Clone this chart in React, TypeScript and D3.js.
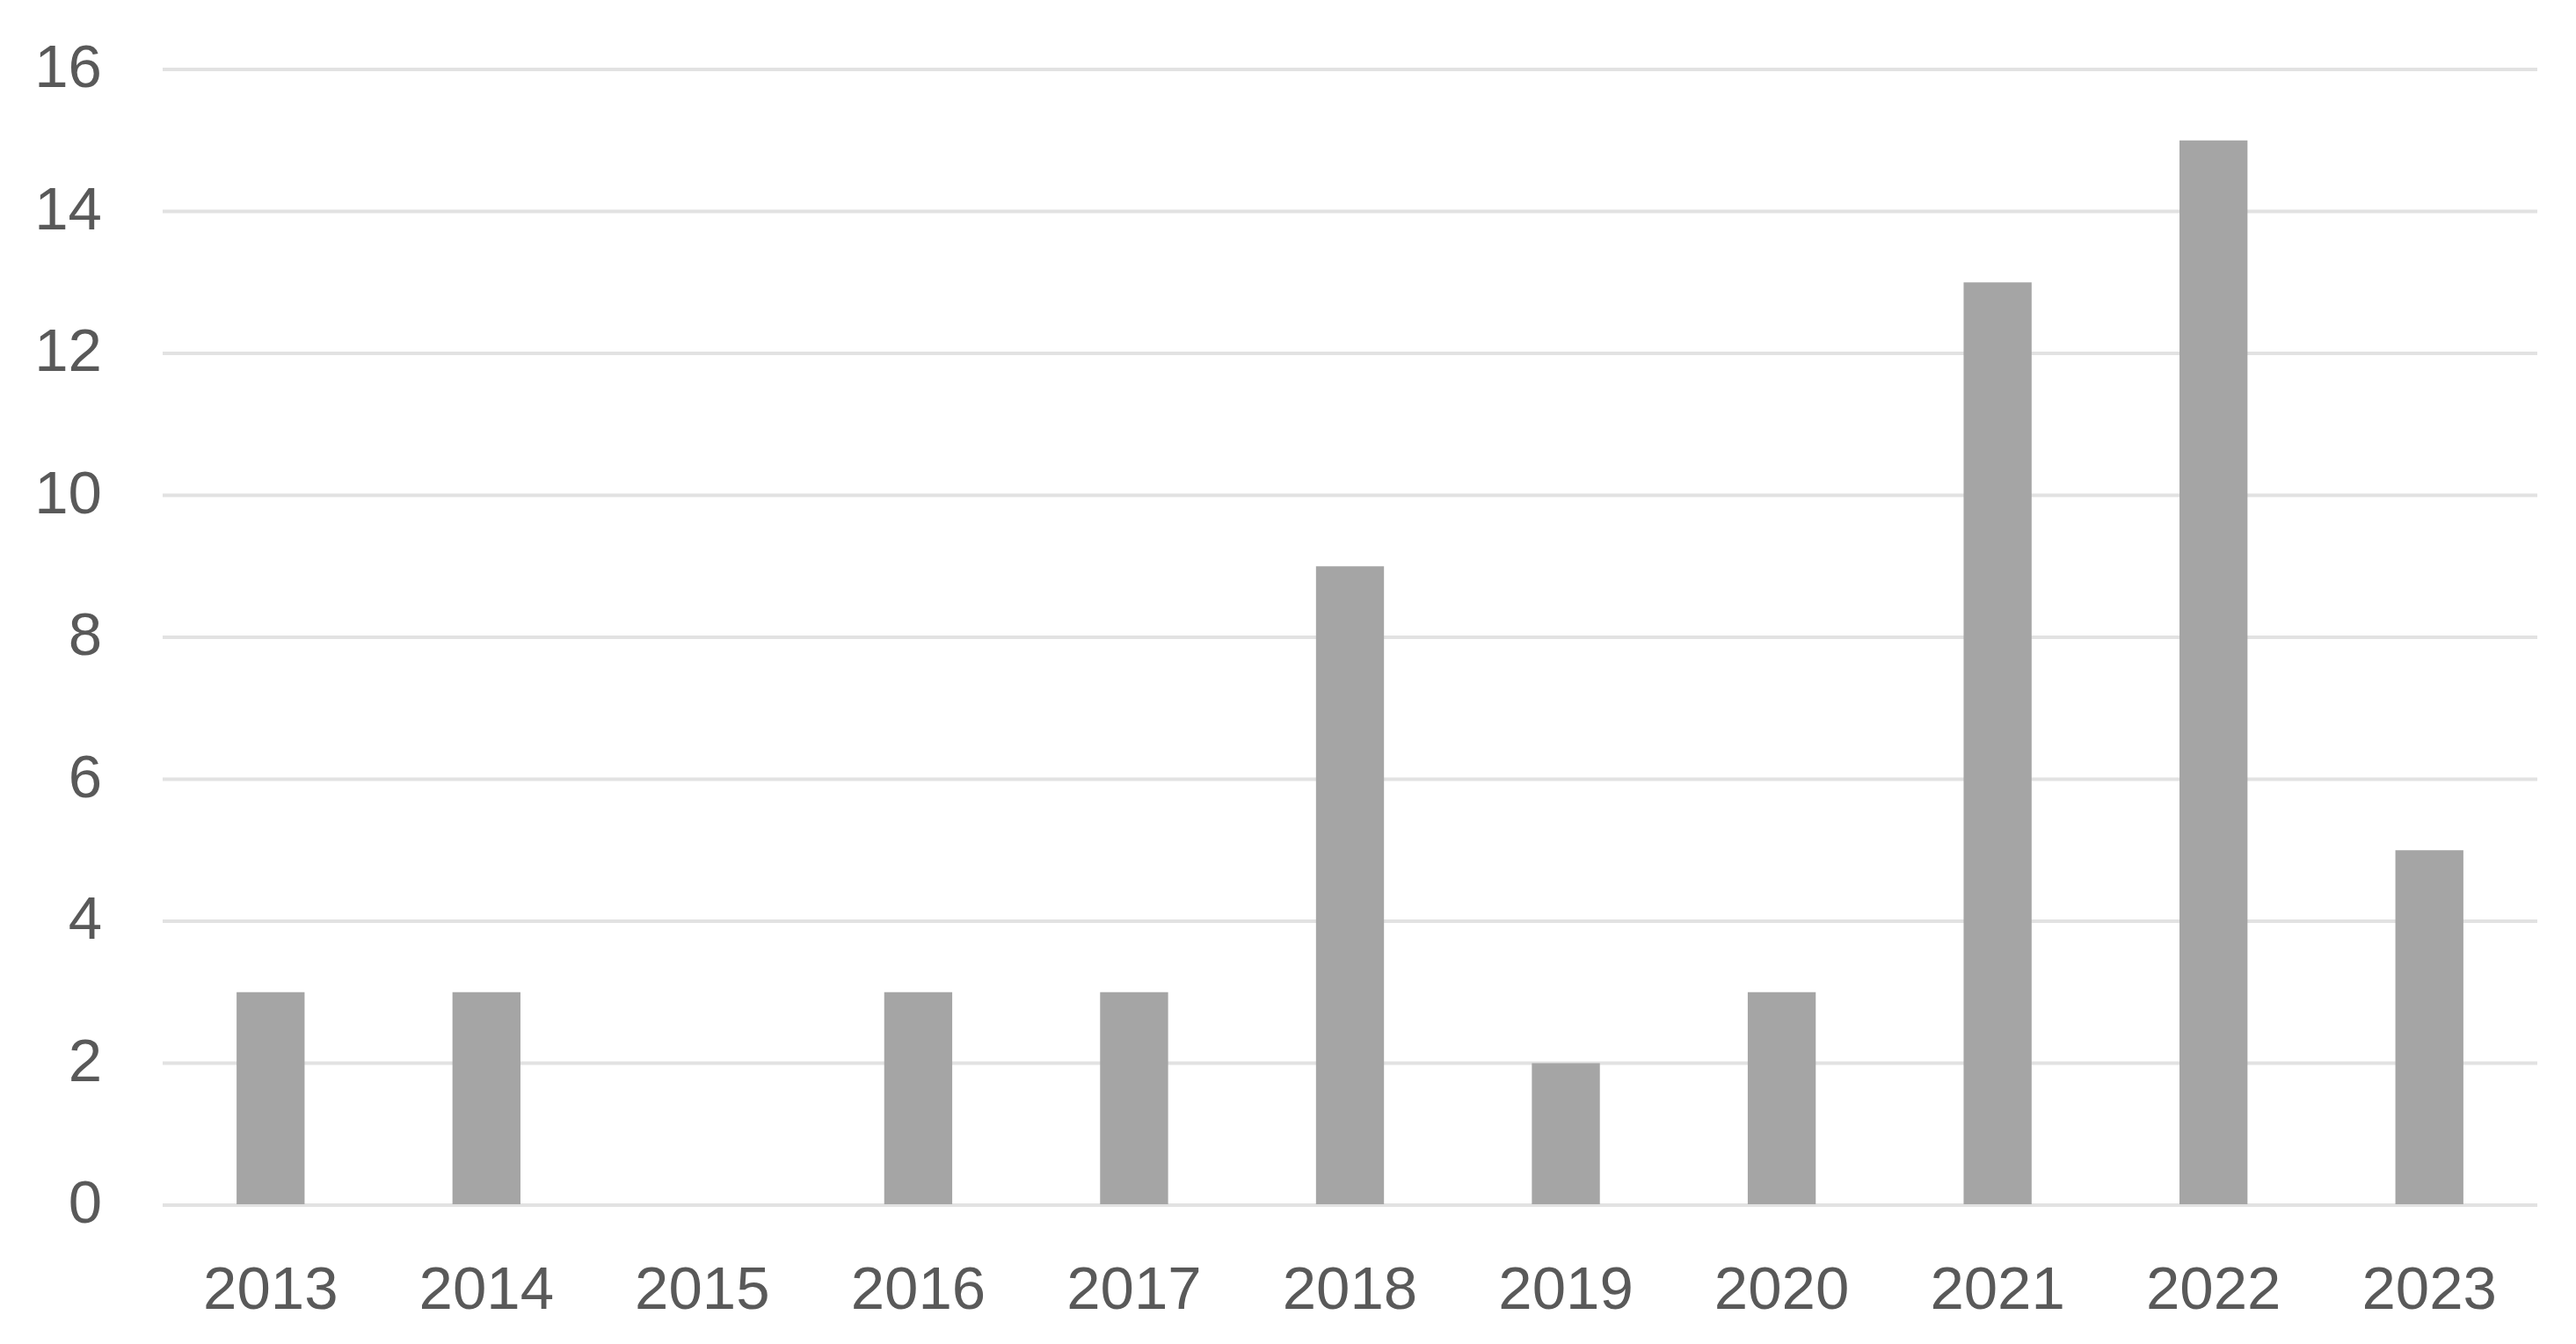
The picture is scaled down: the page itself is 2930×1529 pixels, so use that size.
import React, { useEffect, useRef } from 'react';
import * as d3 from 'd3';

const years = ['2013', '2014', '2015', '2016', '2017', '2018', '2019', '2020', '2021', '2022', '2023'];
const counts = [3, 3, 0, 3, 3, 9, 2, 3, 13, 15, 5];
const yTicks = [0, 2, 4, 6, 8, 10, 12, 14, 16];

const W = 2930;
const H = 1529;

const App = () => {
  const svgRef = useRef<SVGSVGElement>(null);

  useEffect(() => {
    const svg = d3.select(svgRef.current)
      .attr('width', W)
      .attr('height', H);

    svg.selectAll('*').remove();

    const left = 185;
    const right = 2886;
    const top = 79;
    const bottom = 1371;

    const x = d3.scaleBand<string>()
      .domain(years)
      .range([left, right])
      .paddingInner(0.685)
      .paddingOuter(0.3425);

    const y = d3.scaleLinear()
      .domain([0, 16])
      .range([bottom, top]);

    const font = '"Liberation Sans", Arial, Helvetica, sans-serif';

    // gridlines
    svg.append('g')
      .selectAll('line')
      .data(yTicks)
      .join('line')
      .attr('x1', left)
      .attr('x2', right)
      .attr('y1', d => y(d))
      .attr('y2', d => y(d))
      .attr('stroke', '#e2e2e2')
      .attr('stroke-width', 4);

    // y labels
    svg.append('g')
      .selectAll('text')
      .data(yTicks)
      .join('text')
      .attr('x', 116)
      .attr('y', d => y(d) + 20)
      .attr('text-anchor', 'end')
      .attr('font-family', font)
      .attr('font-size', 69)
      .attr('fill', '#595959')
      .text(d => d);

    // bars
    svg.append('g')
      .selectAll('rect')
      .data(counts)
      .join('rect')
      .attr('x', (d, i) => x(years[i])!)
      .attr('width', x.bandwidth())
      .attr('y', d => y(d))
      .attr('height', d => y(0) - y(d) - 1)
      .attr('fill', '#a5a5a5');

    // x labels
    svg.append('g')
      .selectAll('text')
      .data(years)
      .join('text')
      .attr('x', d => x(d)! + x.bandwidth() / 2)
      .attr('y', 1489)
      .attr('text-anchor', 'middle')
      .attr('font-family', font)
      .attr('font-size', 69)
      .attr('fill', '#595959')
      .text(d => d);
  }, []);

  return (
    <svg ref={svgRef} style={{ position: 'absolute', left: 0, top: 0, background: '#fff' }}></svg>
  );
};

export default App;
